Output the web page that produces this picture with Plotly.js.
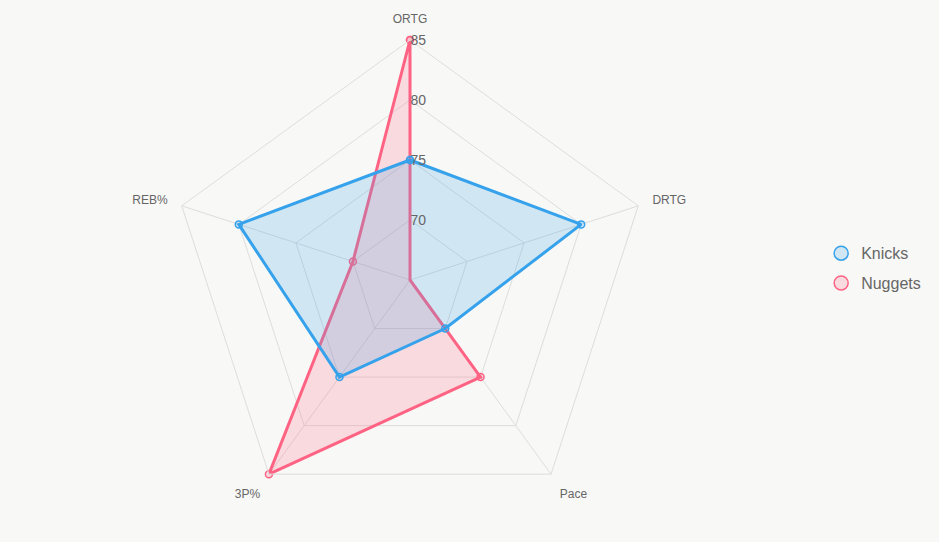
<!DOCTYPE html>
<html><head><meta charset="utf-8">
<script src="https://cdn.plot.ly/plotly-3.0.1.min.js"></script>
<style>html,body{margin:0;padding:0;background:#f8f8f6;}#chart{width:939px;height:542px;}</style>
</head><body><div id="chart"></div>
<script>
const categories = ["ORTG", "DRTG", "Pace", "3P%", "REB%"];
const knicks = [75, 80, 70, 75, 80];
const nuggets = [85, 65, 75, 85, 70];
const radialTicks = [70, 75, 80, 85];

function closeLoop(a){ return a.concat([a[0]]); }

const knicksStyle = {name: "Knicks", values: knicks, line: "rgb(54,162,235)", fill: "rgba(54,162,235,0.2)"};
const nuggetsStyle = {name: "Nuggets", values: nuggets, line: "rgb(255,99,132)", fill: "rgba(255,99,132,0.2)"};

const traces = [];
// drawing order: Nuggets underneath, Knicks on top
[nuggetsStyle, knicksStyle].forEach(s => {
  traces.push({
    type: "scatterpolar", name: s.name, showlegend: false,
    r: closeLoop(s.values), theta: closeLoop(categories),
    fill: "toself", fillcolor: s.fill,
    mode: "lines+markers",
    line: {color: s.line, width: 3},
    marker: {size: 7, color: s.fill, line: {color: s.line, width: 1.5}}
  });
});
// legend entries: Knicks first
[knicksStyle, nuggetsStyle].forEach(s => {
  traces.push({
    type: "scatterpolar", name: s.name, showlegend: true, legendgroup: "lg_" + s.name,
    r: [null], theta: [null],
    mode: "markers",
    marker: {size: 14, color: s.fill, line: {color: s.line, width: 1.5}}
  });
});

const layout = {
  width: 939, height: 542,
  margin: {l: 0, r: 0, t: 0, b: 0},
  paper_bgcolor: "#f8f8f6",
  plot_bgcolor: "#f8f8f6",
  font: {family: "Liberation Sans, Arial, sans-serif", color: "#666", size: 12},
  showlegend: true,
  legend: {
    x: 0.8745, y: 0.505, xanchor: "left", yanchor: "middle",
    traceorder: "grouped",
    tracegroupgap: 6,
    font: {size: 16, color: "#666"},
    bgcolor: "rgba(0,0,0,0)"
  },
  polar: {
    domain: {x: [170/939, 650/939], y: [22/542, 502/542]},
    bgcolor: "rgba(0,0,0,0)",
    gridshape: "linear",
    radialaxis: {
      range: [65, 85],
      tickvals: radialTicks,
      ticktext: radialTicks.map(String),
      angle: 90,
      tickangle: 90,
      showline: false,
      ticks: "",
      gridcolor: "#dddddd",
      tickfont: {size: 14, color: "#666"}
    },
    angularaxis: {
      direction: "clockwise",
      rotation: 90,
      gridcolor: "#dddddd",
      linecolor: "#dddddd",
      ticks: "outside",
      ticklen: 12,
      tickcolor: "rgba(0,0,0,0)",
      tickfont: {size: 12, color: "#666"}
    }
  }
};

Plotly.newPlot("chart", traces, layout, {displayModeBar: false});
</script>
</body></html>
